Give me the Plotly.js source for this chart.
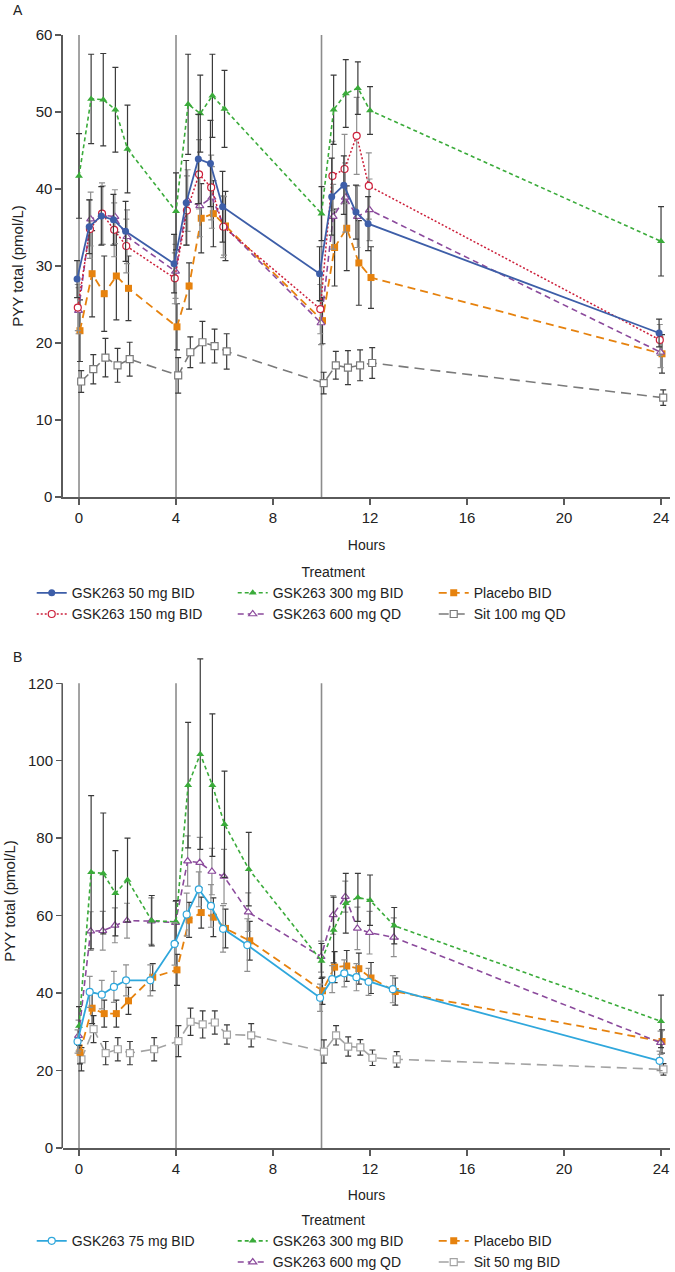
<!DOCTYPE html>
<html>
<head>
<meta charset="utf-8">
<script src="https://cdn.plot.ly/plotly-3.0.1.min.js"></script>
<style>html,body{margin:0;padding:0;background:#fff;}#chartA{width:675px;height:640px;}#chartB{width:675px;height:632px;}</style>
</head>
<body>
<div id="chartA"></div>
<div id="chartB"></div>
<script>
// ---------- Data: Panel A ----------
const timesA = [0,0.5,1,1.5,2,4,4.5,5,5.5,6,10,10.5,11,11.5,12,24];
const A_gsk50      = [28.3,35.1,36.5,36.0,34.5,30.3,38.2,43.9,43.3,37.7,29.0,39.0,40.5,37.0,35.5,21.3];
const A_gsk50_se   = [2.4,3.5,3.8,3.3,3.9,3.8,5.5,5.8,5.6,4.6,3.5,5.0,3.8,3.5,3.5,1.8];
const A_gsk150     = [24.6,34.8,36.8,34.7,32.6,28.4,37.2,41.9,40.2,35.1,24.4,41.7,42.6,46.9,40.4,20.4];
const A_gsk150_se  = [3.0,3.8,4.0,3.5,3.5,3.3,4.5,4.5,4.2,4.0,3.2,4.5,4.5,5.0,4.3,2.0];
const A_gsk300     = [41.7,51.7,51.6,50.3,45.2,37.1,51.0,49.8,52.1,50.4,36.8,50.3,52.4,53.1,50.2,33.2];
const A_gsk300_se  = [5.5,5.8,6.0,5.5,5.7,5.0,6.5,5.0,5.4,5.0,3.5,4.5,4.4,3.4,3.1,4.5];
const A_gsk600     = [24.2,36.1,36.6,36.4,33.8,29.3,38.5,37.8,38.9,35.2,22.6,36.4,38.9,36.4,37.3,18.8];
const A_gsk600_se  = [3.0,3.5,3.8,3.5,3.5,3.5,4.0,4.0,4.0,3.8,2.8,4.2,4.5,4.0,4.0,2.0];
const A_placebo    = [21.6,29.0,26.4,28.7,27.1,22.1,27.4,36.2,36.8,35.2,22.9,32.4,34.9,30.4,28.5,18.6];
const A_placebo_se = [4.0,5.6,4.9,5.7,4.2,3.0,3.0,4.5,4.3,4.5,3.0,5.0,5.5,5.5,4.0,2.5];
const A_sit        = [15.0,16.6,18.1,17.1,17.9,15.8,18.8,20.1,19.6,18.9,14.8,17.1,16.8,17.1,17.4,12.9];
const A_sit_se     = [1.4,1.9,2.5,2.2,2.2,2.3,2.0,2.7,2.2,2.3,1.4,1.8,2.2,2.0,2.0,1.0];

// ---------- Data: Panel B ----------
const timesB = [0,0.5,1,1.5,2,3,4,4.5,5,5.5,6,7,10,10.5,11,11.5,12,13,24];
const B_gsk75      = [27.5,40.3,39.6,41.6,43.3,43.3,52.7,60.3,66.8,62.5,56.6,52.4,38.8,43.6,45.1,44.1,42.9,41.0,22.5];
const B_gsk75_se   = [3,4,3.7,4,4,4,5.5,5.5,4.5,5.5,6,6.8,3.5,3.5,3.5,3.5,3.5,3.5,2.5];
const B_gsk300     = [31.5,71.2,70.9,65.8,69.2,58.7,58.4,93.7,101.7,93.7,83.6,72.0,48.3,56.3,63.2,64.7,64.0,57.4,32.7];
const B_gsk300_se  = [5,19.8,15.6,11,10.8,6.5,5.5,16.2,24.6,18.4,13.7,9.5,4.5,8.5,7.7,6.2,6.5,4.7,6.8];
const B_gsk600     = [29.0,56.0,56.1,57.5,58.7,58.6,58.2,74.1,73.7,71.4,70.1,60.9,49.4,60.2,64.9,56.7,55.6,54.4,27.2];
const B_gsk600_se  = [4,5,5,4.5,4.5,6,5.5,6.5,6.5,6,7,5,4,5,4,5.5,5.5,5,3];
const B_placebo    = [24.7,36.1,34.7,34.7,38.0,44.1,46.0,58.9,60.8,59.6,56.7,53.5,40.6,46.7,47.0,46.3,43.9,40.4,27.5];
const B_placebo_se = [3,4,3.5,3.5,3.5,3.5,4,4.5,4,5,5,5,3.5,4,4,4,4,3.5,3];
const B_sit        = [22.9,30.7,24.5,25.5,24.5,25.5,27.6,32.6,31.9,32.4,29.3,29.1,24.9,29.1,26.2,26.0,23.3,22.9,20.3];
const B_sit_se     = [3,3.5,3,3,3,3,4,3.5,3.5,3,2.5,3,3,2.5,2.5,2,2,2,1.5];

const doseTimes = [0, 4, 10];
const xTicks = [0,4,8,12,16,20,24];
const yTicksA = [0,10,20,30,40,50,60];
const yTicksB = [0,20,40,60,80,100,120];
const yMaxA = 60, yMaxB = 120;

// ---------- Styles ----------
const FONT = 'Liberation Sans, Arial, sans-serif';
const DARK = '#3a3a3a', LIGHT = '#8f8f8f', AXC = '#5a5a5a';

function series(name, times, vals, errs, st, rank) {
  return {
    type: 'scatter', mode: 'lines+markers', name: name,
    x: times.map(t => t + st.dodge), y: vals, legendrank: rank,
    cliponaxis: false,
    line: {color: st.color, width: st.width, dash: st.dash},
    marker: {symbol: st.symbol, size: st.size || 7,
             color: st.open ? '#ffffff' : st.color,
             line: {color: st.color, width: st.open ? 1.2 : 0}},
    error_y: {type: 'data', array: errs, visible: true, color: st.ecolor,
              thickness: 1.2, width: 3}
  };
}

const S = {
  g50:  {color:'#3d5ea8', width:1.8, dash:'solid', symbol:'circle', open:false, dodge:-0.08, ecolor:DARK},
  g150: {color:'#cc1f3a', width:1.5, dash:'2px,2px', symbol:'circle', open:true, dodge:-0.05, ecolor:LIGHT},
  g300: {color:'#3aab3a', width:1.6, dash:'4px,3px', symbol:'triangle-up', open:false, dodge:0.0, ecolor:DARK},
  g600: {color:'#8b4a9c', width:1.6, dash:'6px,4px', symbol:'triangle-up', open:true, dodge:-0.02, ecolor:LIGHT},
  pla:  {color:'#e6820e', width:1.8, dash:'8px,5px', symbol:'square', open:false, dodge:0.04, ecolor:DARK},
  sitA: {color:'#7a7a7a', width:1.6, dash:'10px,6px', symbol:'square', open:true, dodge:0.09, ecolor:DARK},
  g75:  {color:'#2fa7dc', width:1.8, dash:'solid', symbol:'circle', open:true, dodge:-0.06, ecolor:LIGHT},
  sitB: {color:'#a3a3a3', width:1.6, dash:'10px,6px', symbol:'square', open:true, dodge:0.1, ecolor:DARK}
};

const tracesA = [
  series('Sit 100 mg QD', timesA, A_sit, A_sit_se, S.sitA, 6),
  series('Placebo BID', timesA, A_placebo, A_placebo_se, S.pla, 3),
  series('GSK263 600 mg QD', timesA, A_gsk600, A_gsk600_se, S.g600, 5),
  series('GSK263 150 mg BID', timesA, A_gsk150, A_gsk150_se, S.g150, 4),
  series('GSK263 300 mg BID', timesA, A_gsk300, A_gsk300_se, S.g300, 2),
  series('GSK263 50 mg BID', timesA, A_gsk50, A_gsk50_se, S.g50, 1)
];
const tracesB = [
  series('Sit 50 mg BID', timesB, B_sit, B_sit_se, S.sitB, 6),
  series('Placebo BID', timesB, B_placebo, B_placebo_se, S.pla, 3),
  series('GSK263 600 mg QD', timesB, B_gsk600, B_gsk600_se, S.g600, 5),
  series('GSK263 300 mg BID', timesB, B_gsk300, B_gsk300_se, S.g300, 2),
  series('GSK263 75 mg BID', timesB, B_gsk75, B_gsk75_se, S.g75, 1),
  // empty legend slot so the panel-B legend keeps the 3-column layout
  {type:'scatter', mode:'lines', x:[null], y:[null], name:' ', legendrank:4,
   line:{width:0, color:'rgba(0,0,0,0)'}, hoverinfo:'skip', showlegend:true}
];

function doseShapes(ymax) {
  return doseTimes.map(t => ({type:'line', xref:'x', yref:'y', x0:t, x1:t, y0:0, y1:ymax, layer:'below',
                              line:{color:'#8c8c8c', width:1.6}}));
}

const xRange = [-0.66, 24.37];
function xAx(standoff) {
  return {range: xRange, tickvals: xTicks, ticks:'outside', ticklen:6,
          tickwidth:1.5, tickcolor:AXC, showline:true, linecolor:AXC, linewidth:1.6,
          showgrid:false, zeroline:false, tickfont:{size:15, color:'#222'},
          title:{text:'Hours', font:{size:14, color:'#222'}, standoff:standoff}};
}
function yAx(range, ticks, showline) {
  return {range: range, tickvals: ticks, ticks:'outside', ticklen:6,
          tickwidth:1.5, tickcolor:AXC, showline:showline, linecolor:AXC, linewidth:1.6,
          showgrid:false, zeroline:false, tickfont:{size:15, color:'#222'},
          title:{text:'PYY total (pmol/L)', font:{size:15, color:'#222'}, standoff:8}};
}
function legendAt(y) {
  return {
    orientation:'h', entrywidth:156, entrywidthmode:'pixels',
    xref:'container', yref:'container', x:0.047, y:y, xanchor:'left', yanchor:'top',
    font:{size:14, color:'#222', family:FONT}, bgcolor:'rgba(0,0,0,0)', tracegroupgap:0,
    itemwidth:30, traceorder:'normal',
    title:{text:'Treatment', side:'top center', font:{size:14, color:'#222', family:FONT}}
  };
}
function panelLabel(txt, y) {
  return {text:txt, xref:'paper', yref:'paper', x:-0.085, y:y, xanchor:'left', yanchor:'middle',
          showarrow:false, font:{size:14, color:'#222'}};
}

const layoutA = {
  width:675, height:640, margin:{l:63, r:5, t:35, b:143},
  paper_bgcolor:'#fff', plot_bgcolor:'#fff', font:{family:FONT, color:'#222'},
  showlegend:true, xaxis: xAx(15), yaxis: yAx([0, yMaxA], yTicksA, true),
  legend: legendAt(0.1266), shapes: doseShapes(yMaxA),
  annotations: [panelLabel('A', 1.054)]
};

// Panel B: extra head-room above 120 so the tallest error bar is not clipped;
// the y-axis line itself stops at 120, as in the original figure.
const shapesB = doseShapes(yMaxB);
shapesB.push({type:'line', xref:'paper', yref:'y', x0:-0.0013, x1:-0.0013, y0:-0.45, y1:yMaxB,
              layer:'above', line:{color:AXC, width:1.6}});
const layoutB = {
  width:675, height:632, margin:{l:63, r:5, t:14, b:124},
  paper_bgcolor:'#fff', plot_bgcolor:'#fff', font:{family:FONT, color:'#222'},
  showlegend:true, xaxis: xAx(14), yaxis: yAx([0, 127.56], yTicksB, false),
  legend: legendAt(0.1028), shapes: shapesB,
  annotations: [panelLabel('B', 0.994)]
};

Plotly.newPlot('chartA', tracesA, layoutA, {displayModeBar:false, staticPlot:true});
Plotly.newPlot('chartB', tracesB, layoutB, {displayModeBar:false, staticPlot:true});
</script>
</body>
</html>
